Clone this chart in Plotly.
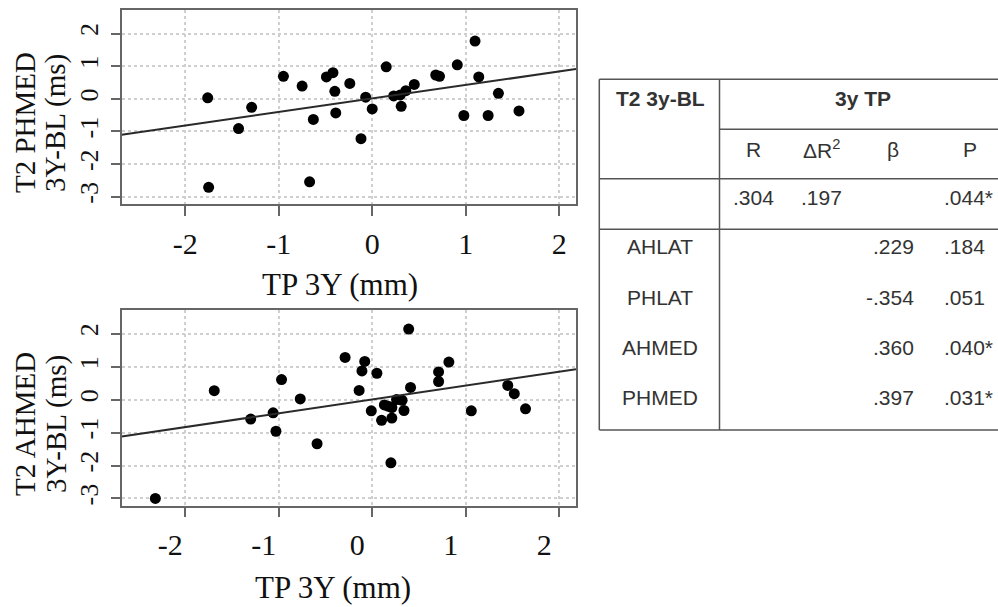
import plotly.graph_objects as go

# ---------------- data ----------------
top_x = [-1.76, -1.75, -1.43, -1.29, -0.95, -0.75, -0.67, -0.63, -0.49, -0.42,
         -0.40, -0.39, -0.24, -0.12, -0.07, 0.00, 0.15, 0.23, 0.30, 0.31,
         0.36, 0.45, 0.68, 0.72, 0.91, 0.98, 1.10, 1.14, 1.24, 1.35, 1.57]
top_y = [0.03, -2.71, -0.91, -0.26, 0.69, 0.39, -2.54, -0.63, 0.67, 0.80,
         0.23, -0.43, 0.47, -1.22, 0.05, -0.31, 0.98, 0.09, 0.12, -0.23,
         0.25, 0.44, 0.73, 0.69, 1.04, -0.51, 1.77, 0.67, -0.51, 0.17, -0.37]

bot_x = [-2.32, -1.69, -1.30, -1.06, -1.03, -0.97, -0.77, -0.59, -0.29, -0.14,
         -0.11, -0.08, -0.01, 0.05, 0.10, 0.13, 0.17, 0.20, 0.21, 0.21,
         0.26, 0.32, 0.34, 0.39, 0.41, 0.71, 0.71, 0.82, 1.06, 1.45, 1.52, 1.64]
bot_y = [-3.00, 0.27, -0.59, -0.40, -0.96, 0.61, 0.02, -1.34, 1.28, 0.28,
         0.87, 1.16, -0.34, 0.80, -0.63, -0.16, -0.20, -1.92, -0.56, -0.24,
         0.00, -0.02, -0.33, 2.14, 0.37, 0.84, 0.55, 1.14, -0.34, 0.43, 0.18, -0.28]

top_fit_intercept, top_fit_slope = 0.01, 0.414
bot_fit_intercept, bot_fit_slope = 0.006, 0.42

x_ticks = [-2, -1, 0, 1, 2]
y_ticks = [-3, -2, -1, 0, 1, 2]
x_range = [-2.68, 2.18]
y_range = [-3.22, 2.72]

x_title = "TP 3Y (mm)"
top_y_title = ["T2 PHMED", "3Y-BL (ms)"]
bot_y_title = ["T2 AHMED", "3Y-BL (ms)"]

tbl_corner = "T2 3y-BL"
tbl_group = "3y TP"
tbl_cols = ["R", "ΔR<sup>2</sup>", "β", "P"]
model_row = [".304", ".197", "", ".044*"]
predictors = ["AHLAT", "PHLAT", "AHMED", "PHMED"]
beta_vals = [".229", "-.354", ".360", ".397"]
p_vals = [".184", ".051", ".040*", ".031*"]

# ---------------- layout helpers ----------------
W, H = 998, 607
def px(x):
    return x / W
def py(y):
    return 1 - y / H

SERIF = "Liberation Serif, Times New Roman, serif"
SANS = "Liberation Sans, Arial, sans-serif"
TXT = "#333333"
LINE = "#555555"

fig = go.Figure()

def add_panel(xs, ys, b0, b1, xa, ya):
    fig.add_trace(go.Scatter(x=xs, y=ys, mode="markers", xaxis=xa, yaxis=ya,
                             marker=dict(color="black", size=11, line=dict(width=0)),
                             showlegend=False, hoverinfo="x+y"))
    lx = list(x_range)
    fig.add_trace(go.Scatter(x=lx, y=[b0 + b1 * v for v in lx], mode="lines",
                             xaxis=xa, yaxis=ya, line=dict(color="#2a2a2a", width=2),
                             showlegend=False, hoverinfo="skip"))

add_panel(top_x, top_y, top_fit_intercept, top_fit_slope, "x", "y")
add_panel(bot_x, bot_y, bot_fit_intercept, bot_fit_slope, "x2", "y2")

xcommon = dict(range=x_range, tickvals=x_ticks, ticktext=[str(t) for t in x_ticks],
               showgrid=True, gridcolor="#cfcfcf", griddash="dot", gridwidth=1.5,
               zeroline=False, showline=True, mirror=True, linecolor="#666666",
               linewidth=1.5, ticks="outside", ticklen=10, tickwidth=1.5,
               tickcolor="#666666", tickfont=dict(family=SERIF, size=30, color="#111111"),
               ticklabelstandoff=2, fixedrange=True)
ycommon = dict(range=y_range, tickvals=y_ticks, ticktext=[str(t) for t in y_ticks],
               showgrid=True, gridcolor="#cfcfcf", griddash="dot", gridwidth=1.5,
               zeroline=False, showline=True, mirror=True, linecolor="#666666",
               linewidth=1.5, ticks="outside", ticklen=9, tickwidth=1.5,
               tickcolor="#666666", tickangle=-90,
               tickfont=dict(family=SERIF, size=26, color="#111111"),
               ticklabelstandoff=3, fixedrange=True)

xdom = [px(121.7), px(576)]
fig.update_layout(
    width=W, height=H, margin=dict(l=0, r=0, t=0, b=0),
    paper_bgcolor="white", plot_bgcolor="white",
    xaxis=dict(xcommon, domain=xdom, anchor="y"),
    yaxis=dict(ycommon, domain=[py(204), py(10)], anchor="x"),
    xaxis2=dict(xcommon, domain=xdom, anchor="y2", ticklabelshift=-15),
    yaxis2=dict(ycommon, domain=[py(505.7), py(310)], anchor="x2"),
)

ann = []
# axis titles
for (tx_, ty_) in [(340, 284), (333, 587)]:
    ann.append(dict(text=x_title, x=px(tx_), y=py(ty_), xref="paper", yref="paper",
                    showarrow=False, xanchor="center", yanchor="middle",
                    font=dict(family=SERIF, size=31, color="#111111")))
for lines, cy in [(top_y_title, 123), (bot_y_title, 424)]:
    for line, cx in zip(lines, [25, 56]):
        ann.append(dict(text=line, x=px(cx), y=py(cy), xref="paper", yref="paper",
                        showarrow=False, xanchor="center", yanchor="middle", textangle=-90,
                        font=dict(family=SERIF, size=29, color="#111111")))

# ---------------- table ----------------
L, V, R = 599.3, 719.5, 998
T, B = 79.3, 430
h1, h2, h3 = 129.3, 178.8, 229.3
shapes = []
def seg(x0, y0, x1, y1):
    shapes.append(dict(type="line", xref="paper", yref="paper",
                       x0=px(x0), y0=py(y0), x1=px(x1), y1=py(y1),
                       line=dict(color=LINE, width=1.5)))
seg(L, T, R, T)
seg(L, B, R, B)
seg(L, T, L, B)
seg(V, T, V, B)
seg(V, h1, R, h1)
seg(L, h2, R, h2)
seg(L, h3, R, h3)

def tx(text, x, y, anchor="center", bold=False, size=21):
    ann.append(dict(text=f"<b>{text}</b>" if bold else text, x=px(x), y=py(y),
                    xref="paper", yref="paper", showarrow=False,
                    xanchor=anchor, yanchor="middle",
                    font=dict(family=SANS, size=size, color=TXT)))

tx(tbl_corner, 660, 98, bold=True)
tx(tbl_group, 863, 98, bold=True)
col_centers = [753.3, 821.7, 893.3, 970]
for c, x in zip(tbl_cols, col_centers):
    tx(c, x, 149)
# model row
tx(model_row[0], 753.3, 198)
tx(model_row[1], 821.7, 198)
tx(model_row[3], 941.7, 198, anchor="left")
row_y = [247, 297, 347, 397]
for name, b, p, y in zip(predictors, beta_vals, p_vals, row_y):
    tx(name, 660, y)
    tx(b, 915.5, y, anchor="right")
    tx(p, 941.7, y, anchor="left")

fig.update_layout(annotations=ann, shapes=shapes)
fig.write_html("out.html", config={"displayModeBar": False},
               post_script="document.body.style.margin='0';document.body.style.overflow='hidden';")
